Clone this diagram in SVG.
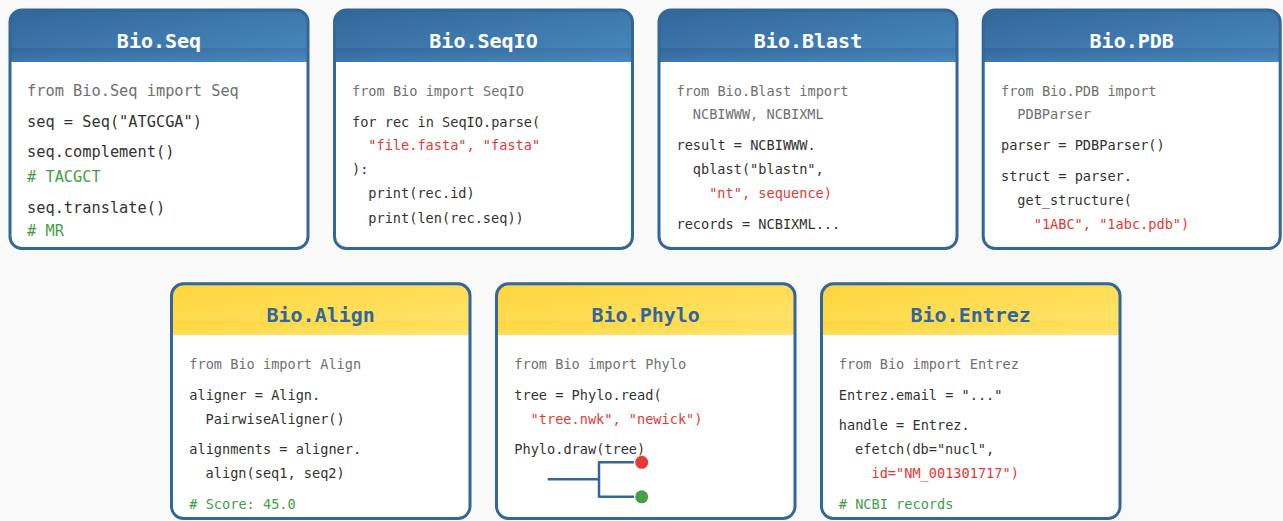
<svg xmlns="http://www.w3.org/2000/svg" width="1283" height="521" viewBox="0 0 1283 521">
<defs>
<linearGradient id="gb" x1="0" y1="0" x2="1" y2="1"><stop offset="0" stop-color="#326699"/><stop offset="1" stop-color="#4a8abf"/></linearGradient>
<linearGradient id="gy" x1="0" y1="0" x2="1" y2="1"><stop offset="0" stop-color="#ffd53c"/><stop offset="1" stop-color="#ffe46e"/></linearGradient>
<style>
.body{fill:#fff}
.frame{fill:none;stroke:#336699;stroke-width:3}
.tt{font-family:"DejaVu Sans Mono","Liberation Mono",monospace;font-weight:bold;font-size:20px;text-anchor:middle}
.tw{fill:#fff}
.tb{fill:#336699}
.c{font-family:"DejaVu Sans Mono","Liberation Mono",monospace;font-size:13.6px;fill:#333}
.big{font-size:15.3px}
.g{fill:#707070}
.r{fill:#e53935}
.k{fill:#43a047}
.tree{fill:none;stroke:#336699;stroke-width:2.5;stroke-linejoin:round}
</style>
</defs>
<rect width="1283" height="521" fill="#f9f9f9"/>

<g id="bio-seq" transform="translate(10,10)">
<rect class="body" width="298" height="238.5" rx="12"/>
<path d="M0,52V12A12,12 0 0 1 12,0H286A12,12 0 0 1 298,12V52Z" fill="url(#gb)"/>
<rect y="38" width="298" height="14" fill="url(#gb)"/>
<text class="tt tw" x="149" y="38">Bio.Seq</text>
<text class="c big g" x="17" y="86">from Bio.Seq import Seq</text>
<text class="c big" x="17" y="116.7">seq = Seq("ATGCGA")</text>
<text class="c big" x="17" y="147">seq.complement()</text>
<text class="c big k" x="17" y="171.5"># TACGCT</text>
<text class="c big" x="17" y="202.5">seq.translate()</text>
<text class="c big k" x="17" y="226"># MR</text>
<rect class="frame" width="298" height="238.5" rx="12"/>
</g>

<g id="bio-seqio" transform="translate(334.5,10)">
<rect class="body" width="298" height="238.5" rx="12"/>
<path d="M0,52V12A12,12 0 0 1 12,0H286A12,12 0 0 1 298,12V52Z" fill="url(#gb)"/>
<rect y="38" width="298" height="14" fill="url(#gb)"/>
<text class="tt tw" x="149" y="38">Bio.SeqIO</text>
<text class="c g" x="17.5" y="86">from Bio import SeqIO</text>
<text class="c" x="17.5" y="116.7">for rec in SeqIO.parse(</text>
<text class="c r" x="33.8" y="140">"file.fasta", "fasta"</text>
<text class="c" x="17.5" y="164">):</text>
<text class="c" x="33.8" y="188">print(rec.id)</text>
<text class="c" x="33.8" y="212.7">print(len(rec.seq))</text>
<rect class="frame" width="298" height="238.5" rx="12"/>
</g>

<g id="bio-blast" transform="translate(659,10)">
<rect class="body" width="298" height="238.5" rx="12"/>
<path d="M0,52V12A12,12 0 0 1 12,0H286A12,12 0 0 1 298,12V52Z" fill="url(#gb)"/>
<rect y="38" width="298" height="14" fill="url(#gb)"/>
<text class="tt tw" x="149" y="38">Bio.Blast</text>
<text class="c g" x="17.5" y="85.7">from Bio.Blast import</text>
<text class="c g" x="33.8" y="109">NCBIWWW, NCBIXML</text>
<text class="c" x="17.5" y="140">result = NCBIWWW.</text>
<text class="c" x="33.8" y="164">qblast("blastn",</text>
<text class="c r" x="50.2" y="188.3">"nt", sequence)</text>
<text class="c" x="17.5" y="219">records = NCBIXML...</text>
<rect class="frame" width="298" height="238.5" rx="12"/>
</g>

<g id="bio-pdb" transform="translate(983.2,10)">
<rect class="body" width="297" height="238.5" rx="12"/>
<path d="M0,52V12A12,12 0 0 1 12,0H285A12,12 0 0 1 297,12V52Z" fill="url(#gb)"/>
<rect y="38" width="297" height="14" fill="url(#gb)"/>
<text class="tt tw" x="148.5" y="38">Bio.PDB</text>
<text class="c g" x="17.8" y="85.7">from Bio.PDB import</text>
<text class="c g" x="34.1" y="109">PDBParser</text>
<text class="c" x="17.8" y="140">parser = PDBParser()</text>
<text class="c" x="17.8" y="171">struct = parser.</text>
<text class="c" x="34.1" y="195">get_structure(</text>
<text class="c r" x="50.5" y="219">"1ABC", "1abc.pdb")</text>
<rect class="frame" width="297" height="238.5" rx="12"/>
</g>

<g id="bio-align" transform="translate(171.5,283.8)">
<rect class="body" width="298.5" height="234.7" rx="12"/>
<path d="M0,51.2V12A12,12 0 0 1 12,0H286.5A12,12 0 0 1 298.5,12V51.2Z" fill="url(#gy)"/>
<rect y="37.2" width="298.5" height="14" fill="url(#gy)"/>
<text class="tt tb" x="149.2" y="37.9">Bio.Align</text>
<text class="c g" x="17.8" y="85.5">from Bio import Align</text>
<text class="c" x="17.8" y="116.2">aligner = Align.</text>
<text class="c" x="34.1" y="140.2">PairwiseAligner()</text>
<text class="c" x="17.8" y="170.5">alignments = aligner.</text>
<text class="c" x="34.1" y="194.5">align(seq1, seq2)</text>
<text class="c k" x="17.8" y="225.5"># Score: 45.0</text>
<rect class="frame" width="298.5" height="234.7" rx="12"/>
</g>

<g id="bio-phylo" transform="translate(496.5,283.8)">
<rect class="body" width="298.5" height="234.7" rx="12"/>
<path d="M0,51.2V12A12,12 0 0 1 12,0H286.5A12,12 0 0 1 298.5,12V51.2Z" fill="url(#gy)"/>
<rect y="37.2" width="298.5" height="14" fill="url(#gy)"/>
<text class="tt tb" x="149.2" y="37.9">Bio.Phylo</text>
<text class="c g" x="17.8" y="85.5">from Bio import Phylo</text>
<text class="c" x="17.8" y="116.2">tree = Phylo.read(</text>
<text class="c r" x="34.1" y="140.2">"tree.nwk", "newick")</text>
<text class="c" x="17.8" y="170.5">Phylo.draw(tree)</text>
<path class="tree" d="M51.2,195.5H102.5M137.5,178.5H102.5V213H137.5"/>
<circle cx="145.2" cy="178.5" r="6.5" fill="#e53935"/>
<circle cx="145.2" cy="213" r="6.5" fill="#43a047"/>
<rect class="frame" width="298.5" height="234.7" rx="12"/>
</g>

<g id="bio-entrez" transform="translate(821.5,283.8)">
<rect class="body" width="298.5" height="234.7" rx="12"/>
<path d="M0,51.2V12A12,12 0 0 1 12,0H286.5A12,12 0 0 1 298.5,12V51.2Z" fill="url(#gy)"/>
<rect y="37.2" width="298.5" height="14" fill="url(#gy)"/>
<text class="tt tb" x="149.2" y="37.9">Bio.Entrez</text>
<text class="c g" x="17.3" y="85.5">from Bio import Entrez</text>
<text class="c" x="17.3" y="116.2">Entrez.email = "..."</text>
<text class="c" x="17.3" y="146.2">handle = Entrez.</text>
<text class="c" x="33.6" y="170.5">efetch(db="nucl",</text>
<text class="c r" x="50" y="194.5">id="NM_001301717")</text>
<text class="c k" x="17.3" y="225.5"># NCBI records</text>
<rect class="frame" width="298.5" height="234.7" rx="12"/>
</g>

<g id="connectors"></g>
</svg>
